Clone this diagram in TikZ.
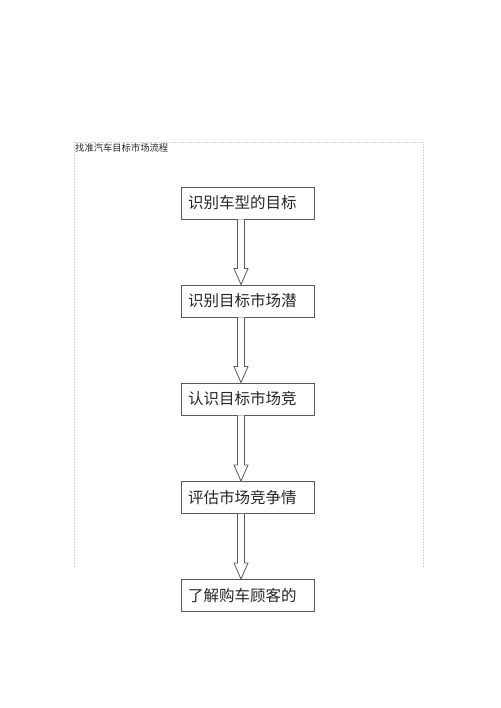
\documentclass[tikz,border=0pt]{standalone}
\usepackage{fontspec}
\newfontfamily\cjk{Noto Sans CJK SC}
\usetikzlibrary{calc}
\tikzset{
  box/.style={draw=black!65, line width=0.9pt, fill=white, minimum width=133pt, minimum height=32pt,
    text width=119pt, inner xsep=7pt, align=left, font=\cjk\fontsize{15.5pt}{16pt}\selectfont, text=black!85},
  arr/.style={draw=black!65, line width=0.8pt, fill=white, line join=miter},
  frame/.style={draw=black!18, line width=0.6pt, densely dotted}
}
\newcommand\blkarrow[2]{%
  \path ([xshift=-6.5pt]#1.south) coordinate (s) ([xshift=-6.5pt]#2.north) coordinate (t);
  \draw[arr] ([xshift=-3.5pt]s) -- ([xshift=-3.5pt,yshift=16pt]s |- t) -- ([xshift=-7pt,yshift=16pt]s |- t)
   -- (s |- t) -- ([xshift=7pt,yshift=16pt]s |- t) -- ([xshift=3.5pt,yshift=16pt]s |- t)
   -- ([xshift=3.5pt]s);}
\begin{document}
\begin{tikzpicture}[x=1pt,y=-1pt]
\useasboundingbox[fill=white] (0,0) rectangle (500,708);
\coordinate (f1) at (74,142);
\coordinate (f2) at (423,142);
\coordinate (f3) at (74,567);
\coordinate (f4) at (423,567);
\draw[frame] (f3) -- (f1) -- (f2) -- (f4);
\node[anchor=west, inner sep=0pt, font=\cjk\fontsize{9.3pt}{10pt}\selectfont, text=black!85] (title) at (75,148) {找准汽车目标市场流程};
\node[box] (b1) at (247.5,203) {识别车型的目标};
\node[box] (b2) at (247.5,301) {识别目标市场潜};
\node[box] (b3) at (247.5,399) {认识目标市场竞};
\node[box] (b4) at (247.5,497.5) {评估市场竞争情};
\node[box] (b5) at (247.5,595.5) {了解购车顾客的};
\blkarrow{b1}{b2}
\blkarrow{b2}{b3}
\blkarrow{b3}{b4}
\blkarrow{b4}{b5}
\end{tikzpicture}
\end{document}
